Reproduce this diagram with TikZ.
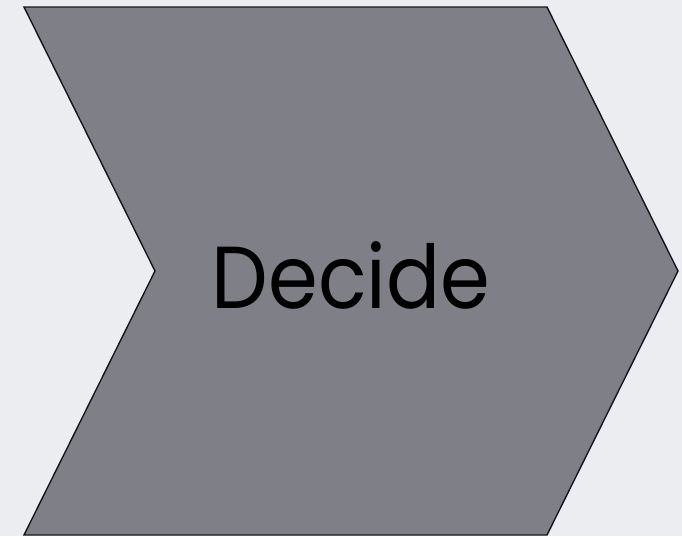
\documentclass[tikz,border=0pt]{standalone}
\usepackage{fontspec}
\setmainfont{Poppins}
\newfontfamily\lblfont[FakeStretch=0.91]{Poppins}
\definecolor{bgc}{HTML}{ECEDF1}
\definecolor{fillc}{HTML}{7F7F88}
\definecolor{linec}{HTML}{16161E}
\begin{document}
\begin{tikzpicture}[x=1pt,y=-1pt,
  chev/.style={fill=fillc,draw=linec,line width=1.4pt,line join=miter}]
\fill[bgc] (0,0) rectangle (682,536);
\useasboundingbox (0,0) rectangle (682,536);
\draw[chev] (24,7) -- (547,7) -- (678,271) -- (547,535) -- (24,535) -- (155,271) -- cycle;
\node[font=\lblfont\fontsize{88}{100}\selectfont, text=black, inner sep=0pt] (lbl) at (351,275) {Decide};
\end{tikzpicture}
\end{document}
